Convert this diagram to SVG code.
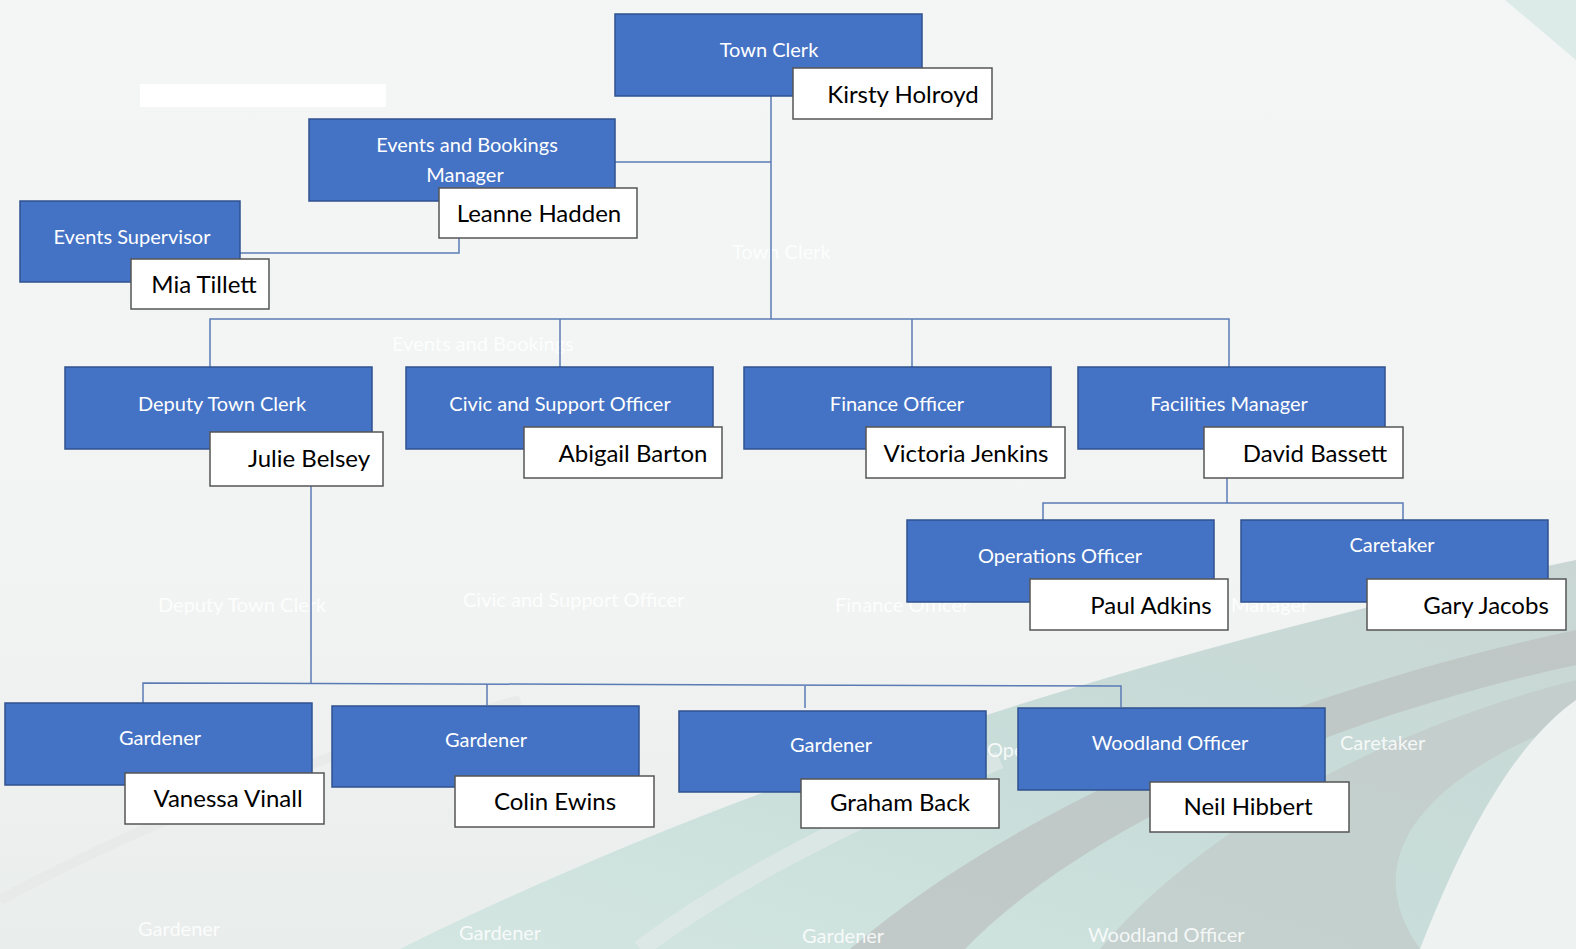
<svg xmlns="http://www.w3.org/2000/svg" width="1576" height="949" viewBox="0 0 1576 949">
<defs>
<linearGradient id="bg" x1="0" y1="0" x2="0" y2="1">
<stop offset="0" stop-color="#F3F6F5"/>
<stop offset="0.6" stop-color="#F2F4F3"/>
<stop offset="1" stop-color="#E9EDEC"/>
</linearGradient>
<linearGradient id="teal" x1="0" y1="1" x2="1" y2="0">
<stop offset="0" stop-color="#D3E6E2"/>
<stop offset="0.5" stop-color="#C8DDD9"/>
<stop offset="1" stop-color="#C9D6D4"/>
</linearGradient>
<style>
.role{fill:#4472C4;stroke:#2F528F;stroke-width:1.5}
.name{fill:#FFFFFF;stroke:#555555;stroke-width:1.5}
.rt{font-family:Lato,"Open Sans",sans-serif;font-size:20px;fill:#FFFFFF;text-anchor:middle}
.nt{font-family:Lato,"Open Sans",sans-serif;font-size:24px;fill:#000000;text-anchor:middle}
.ghost{font-family:Lato,"Open Sans",sans-serif;font-size:20px;fill:#FFFFFF;fill-opacity:0.85}
.conn{fill:none;stroke:#5B7BB5;stroke-width:1.5}
</style>
</defs>
<g id="background">
<rect x="0" y="0" width="1576" height="949" fill="url(#bg)"/>
<path d="M 400 949 C 700 800 1100 660 1576 560 L 1576 949 Z" fill="url(#teal)"/>
<path d="M 850 949 C 1000 820 1250 700 1576 630 L 1576 665 C 1320 720 1080 830 965 949 Z" fill="#BCC1C0" opacity="0.75"/>
<path d="M 1100 949 C 1200 830 1380 730 1576 680 L 1576 720 C 1440 770 1350 850 1420 949 Z" fill="#C2CAC9" opacity="0.7"/>
<path d="M 1420 949 C 1470 820 1520 740 1576 700 L 1576 949 Z" fill="#EEF2F1"/>
<path d="M 640 949 C 760 860 900 800 1000 760" fill="none" stroke="#E4EBEA" stroke-width="18" opacity="0.6"/>
<path d="M 0 900 C 150 820 300 760 520 700" fill="none" stroke="#E6E8E7" stroke-width="10" opacity="0.7"/>
<path d="M 1505 0 L 1576 0 L 1576 60 Z" fill="#DCEBE8"/>
<rect x="140" y="84" width="246" height="23" fill="#FFFFFF"/>
</g>
<g id="ghost-texts">
<text class="ghost" x="732" y="259">Town Clerk</text>
<text class="ghost" x="392" y="351">Events and Bookings</text>
<text class="ghost" x="158" y="612">Deputy Town Clerk</text>
<text class="ghost" x="463" y="607">Civic and Support Officer</text>
<text class="ghost" x="835" y="612">Finance Officer</text>
<text class="ghost" x="1231" y="612">Manager</text>
<text class="ghost" x="987" y="757">Ope</text>
<text class="ghost" x="1340" y="750">Caretaker</text>
<text class="ghost" x="138" y="936">Gardener</text>
<text class="ghost" x="459" y="940">Gardener</text>
<text class="ghost" x="802" y="943">Gardener</text>
<text class="ghost" x="1088" y="942">Woodland Officer</text>
</g>
<g id="connectors">
<path class="conn" d="M 771 96 V 319"/>
<path class="conn" d="M 615 162 H 771"/>
<path class="conn" d="M 459 238 V 253 H 240"/>
<path class="conn" d="M 210 367 V 319 H 1229 V 367"/>
<path class="conn" d="M 560 319 V 367"/>
<path class="conn" d="M 912 319 V 367"/>
<path class="conn" d="M 1227 478 V 503"/>
<path class="conn" d="M 1043 520 V 503 H 1403 V 520"/>
<path class="conn" d="M 311 486 V 683"/>
<path class="conn" d="M 143 703 V 683 L 1121 686 V 707"/>
<path class="conn" d="M 487 684 V 705"/>
<path class="conn" d="M 805 686 V 708"/>
</g>
<g id="town-clerk">
<rect class="role" x="615" y="14" width="307" height="82"/>
<text class="rt" x="769" y="57">Town Clerk</text>
<rect class="name" x="793" y="68" width="199" height="51"/>
<text class="nt" x="903" y="103">Kirsty Holroyd</text>
</g>
<g id="events-bookings-manager">
<rect class="role" x="309" y="119" width="306" height="82"/>
<text class="rt" x="467" y="152">Events and Bookings</text>
<text class="rt" x="465" y="182">Manager</text>
<rect class="name" x="439" y="188" width="198" height="50"/>
<text class="nt" x="539" y="222">Leanne Hadden</text>
</g>
<g id="events-supervisor">
<rect class="role" x="20" y="201" width="220" height="81"/>
<text class="rt" x="132" y="244">Events Supervisor</text>
<rect class="name" x="131" y="259" width="138" height="50"/>
<text class="nt" x="204" y="293">Mia Tillett</text>
</g>
<g id="deputy-town-clerk">
<rect class="role" x="65" y="367" width="307" height="82"/>
<text class="rt" x="222" y="411">Deputy Town Clerk</text>
<rect class="name" x="210" y="432" width="173" height="54"/>
<text class="nt" x="309" y="467">Julie Belsey</text>
</g>
<g id="civic-support-officer">
<rect class="role" x="406" y="367" width="307" height="82"/>
<text class="rt" x="560" y="411">Civic and Support Officer</text>
<rect class="name" x="524" y="427" width="198" height="51"/>
<text class="nt" x="633" y="462">Abigail Barton</text>
</g>
<g id="finance-officer">
<rect class="role" x="744" y="367" width="307" height="82"/>
<text class="rt" x="897" y="411">Finance Officer</text>
<rect class="name" x="866" y="427" width="199" height="51"/>
<text class="nt" x="966" y="462">Victoria Jenkins</text>
</g>
<g id="facilities-manager">
<rect class="role" x="1078" y="367" width="307" height="82"/>
<text class="rt" x="1229" y="411">Facilities Manager</text>
<rect class="name" x="1204" y="427" width="199" height="51"/>
<text class="nt" x="1315" y="462">David Bassett</text>
</g>
<g id="operations-officer">
<rect class="role" x="907" y="520" width="307" height="82"/>
<text class="rt" x="1060" y="563">Operations Officer</text>
<rect class="name" x="1030" y="579" width="198" height="51"/>
<text class="nt" x="1151" y="614">Paul Adkins</text>
</g>
<g id="caretaker">
<rect class="role" x="1241" y="520" width="307" height="82"/>
<text class="rt" x="1392" y="552">Caretaker</text>
<rect class="name" x="1367" y="579" width="199" height="51"/>
<text class="nt" x="1486" y="614">Gary Jacobs</text>
</g>
<g id="gardener-1">
<rect class="role" x="5" y="703" width="307" height="82"/>
<text class="rt" x="160" y="745">Gardener</text>
<rect class="name" x="125" y="773" width="199" height="51"/>
<text class="nt" x="228" y="807">Vanessa Vinall</text>
</g>
<g id="gardener-2">
<rect class="role" x="332" y="706" width="307" height="81"/>
<text class="rt" x="486" y="747">Gardener</text>
<rect class="name" x="455" y="776" width="199" height="51"/>
<text class="nt" x="555" y="810">Colin Ewins</text>
</g>
<g id="gardener-3">
<rect class="role" x="679" y="711" width="307" height="81"/>
<text class="rt" x="831" y="752">Gardener</text>
<rect class="name" x="801" y="779" width="198" height="49"/>
<text class="nt" x="900" y="811">Graham Back</text>
</g>
<g id="woodland-officer">
<rect class="role" x="1018" y="708" width="307" height="82"/>
<text class="rt" x="1170" y="750">Woodland Officer</text>
<rect class="name" x="1150" y="782" width="199" height="50"/>
<text class="nt" x="1248" y="815">Neil Hibbert</text>
</g>
</svg>
